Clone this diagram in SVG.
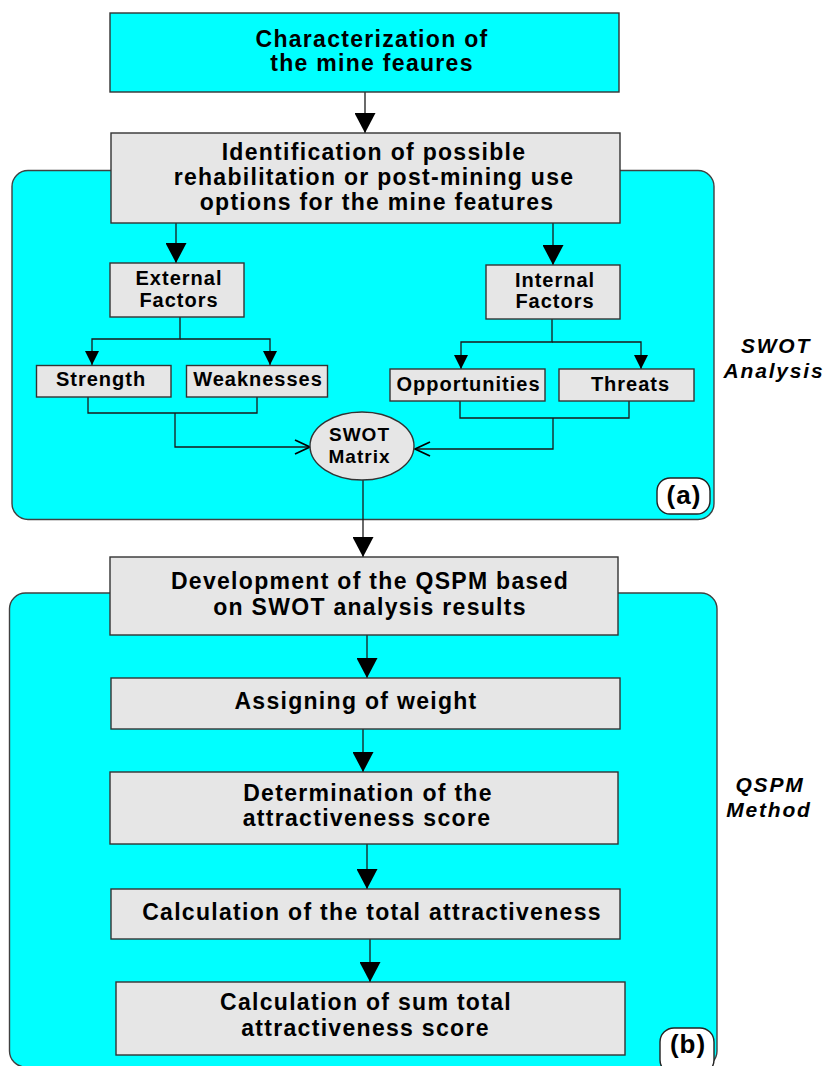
<svg xmlns="http://www.w3.org/2000/svg" width="827" height="1066" viewBox="0 0 827 1066">
<style>
  .panel { fill: #00ffff; stroke: #404040; stroke-width: 1.4; }
  .box { fill: #e6e6e6; stroke: #333333; stroke-width: 1.4; }
  .cbox { fill: #00ffff; stroke: #333333; stroke-width: 1.4; }
  .tag { fill: #ffffff; stroke: #222222; stroke-width: 1.4; }
  text { font-family: "Liberation Sans", Arial, sans-serif; font-weight: bold; fill: #000; text-anchor: middle; }
  .big { font-size: 23px; letter-spacing: 1.3px; }
  .mid { font-size: 20px; letter-spacing: 1px; }
  .ell { font-size: 19px; letter-spacing: 1px; }
  .side { font-size: 21px; font-style: italic; letter-spacing: 1.8px; }
  .lab { font-size: 26px; letter-spacing: 1px; }
  .conn { fill: none; stroke: #1a1a1a; stroke-width: 1.3; }
</style>
<defs>
  <marker id="ah" viewBox="0 0 20 21" refX="20" refY="10.5" markerWidth="20" markerHeight="21" markerUnits="userSpaceOnUse" orient="auto">
    <path d="M0,0 L20,10.5 L0,21 Z" fill="#000"/>
  </marker>
  <marker id="ahs" viewBox="0 0 14 14" refX="14" refY="7" markerWidth="14" markerHeight="14" markerUnits="userSpaceOnUse" orient="auto">
    <path d="M0,0 L14,7 L0,14 Z" fill="#000"/>
  </marker>
  <marker id="aho" viewBox="-1 -1 18 16" refX="15" refY="7" markerWidth="18" markerHeight="16" markerUnits="userSpaceOnUse" orient="auto">
    <path d="M0,0 L15,7 L0,14" fill="none" stroke="#000" stroke-width="1.8"/>
  </marker>
</defs>

<g id="panel-a">
  <rect class="panel" x="12" y="170.5" width="702" height="349" rx="16"/>
</g>
<g id="panel-b">
  <rect class="panel" x="9.5" y="593" width="707.5" height="474" rx="16"/>
</g>

<g id="connectors">
  <path class="conn" d="M365,92 V133" marker-end="url(#ah)"/>
  <path class="conn" d="M176,223 V263" marker-end="url(#ah)"/>
  <path class="conn" d="M553,223 V265" marker-end="url(#ah)"/>
  <path class="conn" d="M180,317 V339 H92 V365" marker-end="url(#ahs)"/>
  <path class="conn" d="M180,339 H270 V365" marker-end="url(#ahs)"/>
  <path class="conn" d="M552,319 V342 H461 V369" marker-end="url(#ahs)"/>
  <path class="conn" d="M552,342 H641 V369" marker-end="url(#ahs)"/>
  <path class="conn" d="M88,397 V413 H257 V397"/>
  <path class="conn" d="M175,413 V447 H310" marker-end="url(#aho)"/>
  <path class="conn" d="M460,401 V418 H629 V401"/>
  <path class="conn" d="M553,418 V449 H415" marker-end="url(#aho)"/>
  <path class="conn" d="M363,480 V557" marker-end="url(#ah)"/>
  <path class="conn" d="M367,635 V678" marker-end="url(#ah)"/>
  <path class="conn" d="M363,729 V772" marker-end="url(#ah)"/>
  <path class="conn" d="M367,844 V889" marker-end="url(#ah)"/>
  <path class="conn" d="M370,939 V982" marker-end="url(#ah)"/>
</g>

<g id="characterization">
  <rect class="cbox" x="110" y="13" width="509" height="79"/>
  <text class="big" x="372" y="46.5">Characterization of</text>
  <text class="big" x="372" y="70.5">the mine feaures</text>
</g>
<g id="identification">
  <rect class="box" x="111" y="133" width="509" height="90"/>
  <text class="big" x="374" y="159.5">Identification of possible</text>
  <text class="big" x="374" y="184.5">rehabilitation or post-mining use</text>
  <text class="big" x="377" y="209.5">options for the mine features</text>
</g>
<g id="external-factors">
  <rect class="box" x="110" y="263" width="134" height="54"/>
  <text class="mid" x="179" y="285">External</text>
  <text class="mid" x="179" y="306.5">Factors</text>
</g>
<g id="internal-factors">
  <rect class="box" x="486" y="265" width="134" height="54"/>
  <text class="mid" x="555" y="286.5">Internal</text>
  <text class="mid" x="555" y="308">Factors</text>
</g>
<g id="strength">
  <rect class="box" x="36.5" y="365.5" width="134.5" height="31.5"/>
  <text class="mid" x="101" y="385.5">Strength</text>
</g>
<g id="weaknesses">
  <rect class="box" x="186.5" y="365.5" width="141" height="31.5"/>
  <text class="mid" x="258" y="385.5">Weaknesses</text>
</g>
<g id="opportunities">
  <rect class="box" x="390" y="369" width="155" height="32"/>
  <text class="mid" x="468.5" y="390.5">Opportunities</text>
</g>
<g id="threats">
  <rect class="box" x="559" y="369" width="135" height="32"/>
  <text class="mid" x="630.5" y="390.5">Threats</text>
</g>
<g id="swot-matrix">
  <ellipse class="box" cx="362" cy="446" rx="52" ry="34"/>
  <text class="ell" x="359.5" y="440.5">SWOT</text>
  <text class="ell" x="359.5" y="463">Matrix</text>
</g>
<g id="label-a">
  <rect class="tag" x="657" y="478" width="53" height="36" rx="13"/>
  <text class="lab" x="684" y="503.5">(a)</text>
</g>
<g id="swot-analysis-label">
  <text class="side" x="776" y="353">SWOT</text>
  <text class="side" x="774" y="378">Analysis</text>
</g>

<g id="development">
  <rect class="box" x="110" y="557" width="508" height="78"/>
  <text class="big" x="370" y="589">Development of the QSPM based</text>
  <text class="big" x="370" y="615">on SWOT analysis results</text>
</g>
<g id="assigning">
  <rect class="box" x="111" y="678" width="509" height="51"/>
  <text class="big" x="356" y="709">Assigning of weight</text>
</g>
<g id="determination">
  <rect class="box" x="110" y="772" width="508" height="72"/>
  <text class="big" x="368" y="800.5">Determination of the</text>
  <text class="big" x="367" y="826">attractiveness score</text>
</g>
<g id="calc-total">
  <rect class="box" x="111" y="889" width="509" height="50"/>
  <text class="big" x="372" y="920">Calculation of the total attractiveness</text>
</g>
<g id="calc-sum">
  <rect class="box" x="116" y="982" width="509" height="73"/>
  <text class="big" x="366" y="1010">Calculation of sum total</text>
  <text class="big" x="365.5" y="1035.5">attractiveness score</text>
</g>
<g id="label-b">
  <rect class="tag" x="660" y="1028" width="54" height="46" rx="14"/>
  <text class="lab" x="688" y="1053">(b)</text>
</g>
<g id="qspm-method-label">
  <text class="side" x="770" y="792">QSPM</text>
  <text class="side" x="769" y="817">Method</text>
</g>
</svg>
